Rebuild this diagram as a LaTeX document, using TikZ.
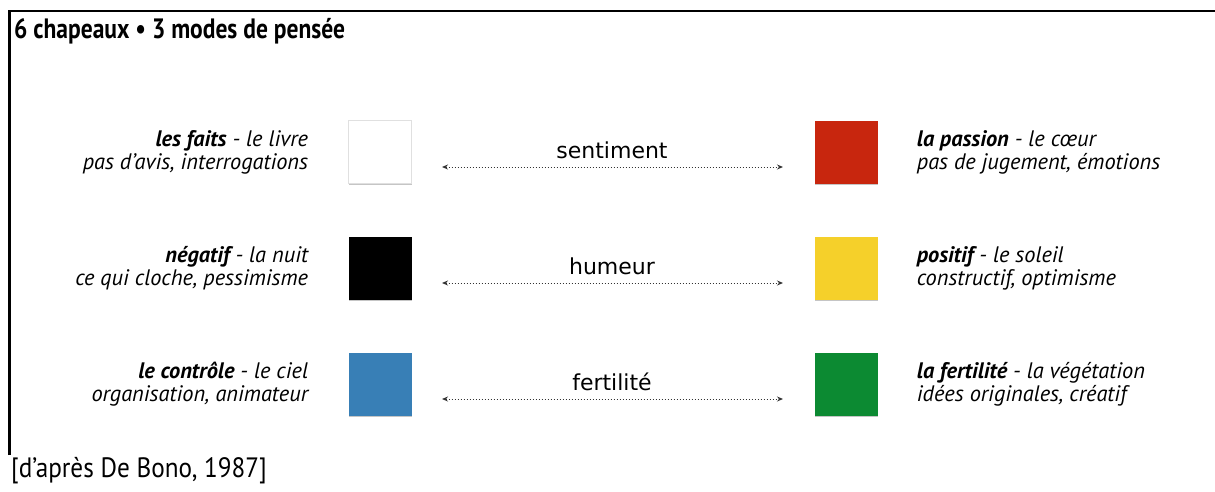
\documentclass[tikz,border=0pt]{standalone}
\usepackage{fontspec}
\setmainfont{PT Sans}
\newfontfamily\titlefont[FakeStretch=0.84]{PT Sans}
\newfontfamily\condfont[FakeStretch=0.9]{PT Sans}
\newfontfamily\modefont{DejaVu Sans}
\usetikzlibrary{positioning,arrows.meta,shadows}
\definecolor{hatwhite}{RGB}{255,255,255}
\definecolor{hatred}{RGB}{200,38,14}
\definecolor{hatblack}{RGB}{0,0,0}
\definecolor{hatyellow}{RGB}{245,208,42}
\definecolor{hatblue}{RGB}{56,127,182}
\definecolor{hatgreen}{RGB}{12,138,50}
\begin{document}
\begin{tikzpicture}
[x=1pt,y=-1pt,every node/.style={inner sep=0pt},
 hat/.style={minimum size=63pt,drop shadow={shadow xshift=0pt,shadow yshift=-1.5pt,fill=black!45,opacity=.5}},
 lefttext/.style={align=right,font=\fontsize{22.4}{23}\selectfont\itshape},
 righttext/.style={align=left,font=\fontsize{22.4}{23}\selectfont\itshape},
 mode/.style={font=\modefont\fontsize{22}{25}\selectfont},
 link/.style={line width=1pt,black!80,dash pattern=on 1pt off 2pt,{Stealth[length=6pt,width=5pt]}-{Stealth[length=6pt,width=5pt]}}]
\useasboundingbox (0,0) rectangle (1215,491);
%\fill[red!10] (0,0) rectangle (1215,491);
\draw [line width=2.5pt] (9.5,455) -- (9.5,11) -- (1215,11);
\node [anchor=base west,font=\titlefont\bfseries\fontsize{28}{32}\selectfont] (title) at (14,38) {6 chapeaux • 3 modes de pensée};
\node [anchor=base west,font=\condfont\fontsize{28}{32}\selectfont] (source) at (11,477) {[d’après De Bono, 1987]};
% hats
\node [hat,fill=hatwhite,draw=black!12] (white) at (380,152) {};
\node [hat,fill=hatred] (red) at (846,152) {};
\node [hat,fill=hatblack] (black) at (380,268) {};
\node [hat,fill=hatyellow] (yellow) at (846,268) {};
\node [hat,fill=hatblue] (blue) at (380,384) {};
\node [hat,fill=hatgreen] (green) at (846,384) {};
% texts
\node [lefttext,left=40pt of white] (whitetext) {\textbf{les faits} - le livre\\pas d’avis, interrogations};
\node [righttext,right=39pt of red] (redtext) {\textbf{la passion} - le cœur\\pas de jugement, émotions};
\node [lefttext,left=40pt of black] (blacktext) {\textbf{négatif} - la nuit\\ce qui cloche, pessimisme};
\node [righttext,right=39pt of yellow] (yellowtext) {\textbf{positif} - le soleil\\constructif, optimisme};
\node [lefttext,left=40pt of blue] (bluetext) {\textbf{le contrôle} - le ciel\\organisation, animateur};
\node [righttext,right=39pt of green] (greentext) {\textbf{la fertilité} - la végétation\\idées originales, créatif};
% modes
\coordinate (a1) at (442,167);
\coordinate (b1) at (783,167);
\coordinate (a2) at (442,283);
\coordinate (b2) at (783,283);
\coordinate (a3) at (442,399);
\coordinate (b3) at (783,399);
\node [mode,anchor=base] (m1) at (612,158) {sentiment};
\node [mode,anchor=base] (m2) at (612,274) {humeur};
\node [mode,anchor=base] (m3) at (612,390) {fertilité};
\draw [link] (a1) to (b1);
\draw [link] (a2) to (b2);
\draw [link] (a3) to (b3);
\end{tikzpicture}
\end{document}
